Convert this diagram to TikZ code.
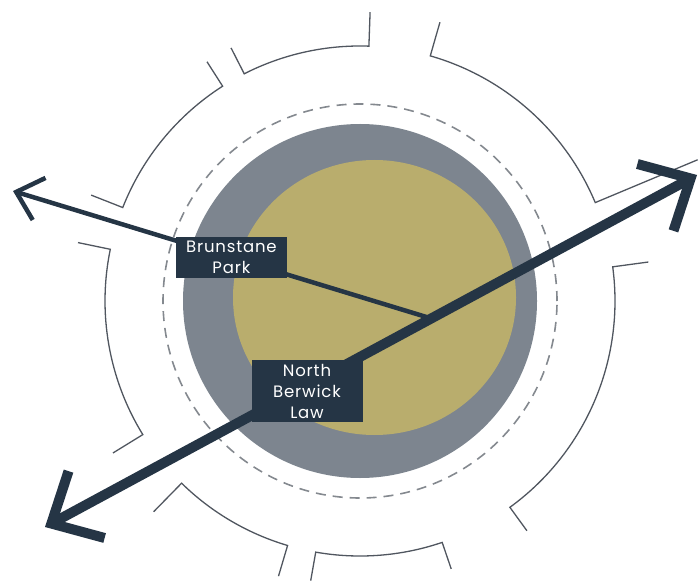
\documentclass[tikz,border=0pt]{standalone}
\usepackage{fontspec}
\setmainfont{Poppins}[LetterSpace=5]
\usepackage{tikz}
\usetikzlibrary{arrows.meta,calc}
\definecolor{ringgrey}{HTML}{7D858F}
\definecolor{lawolive}{HTML}{B9AD6D}
\definecolor{signnavy}{HTML}{253545}
\definecolor{edgegrey}{HTML}{50565F}
\definecolor{dashgrey}{HTML}{84898F}

\tikzset{
  wall/.style={draw=edgegrey,line width=1.3pt},
  placebox/.style={fill=signnavy,text=white,align=center,
    font=\fontsize{16.5}{21}\selectfont,minimum width=111pt,
    inner xsep=4pt,inner ysep=4pt},
  routethin/.style={draw=signnavy,line width=4.5pt,
    -{Straight Barb[length=24pt,width=44pt]}},
  routethick/.style={draw=signnavy,line width=10pt,
    {Straight Barb[length=40pt,width=76pt]}-{Straight Barb[length=40pt,width=76pt]}}
}

\begin{document}
\begin{tikzpicture}[x=1pt,y=1pt]
  \useasboundingbox (0,0) rectangle (700,584);
  \coordinate (c) at (360,283);

  % outer ring, broken into pieces
  \foreach \a/\b/\ra/\rb in {88/117/289/284, 122.6/158.5/284/289,
      168.3/211.6/288/290, 225.6/253.5/295/287, 260/288.8/284/283,
      306/367.7/284/291, 22.7/74/366/290}
    \draw[wall] ($(c)+(\a:\ra)$) -- ($(c)+(\a:255)$)
      arc[start angle=\a, end angle=\b, radius=255] -- ($(c)+(\b:\rb)$);

  \draw[dashgrey,line width=1.6pt,dash pattern=on 10pt off 7pt] (c) circle[radius=197];
  \fill[ringgrey] (c) circle[radius=177];
  \fill[lawolive] (374.5,286.5) ellipse[x radius=141.5, y radius=137.5];

  % routes
  \coordinate (hub) at (433,265);
  \coordinate (westtip) at (13,393);
  \coordinate (swtip) at (45,57);
  \coordinate (netip) at (697,409);
  \draw[routethin] (hub) -- (westtip);
  \draw[routethick] (swtip) -- (netip);

  \node[placebox] (brunstane) at ($(hub)!0.48!(westtip)$) {Brunstane\\Park};
  \node[placebox] (berwicklaw) at (307,193) {North\\Berwick\\Law};
\end{tikzpicture}
\end{document}
